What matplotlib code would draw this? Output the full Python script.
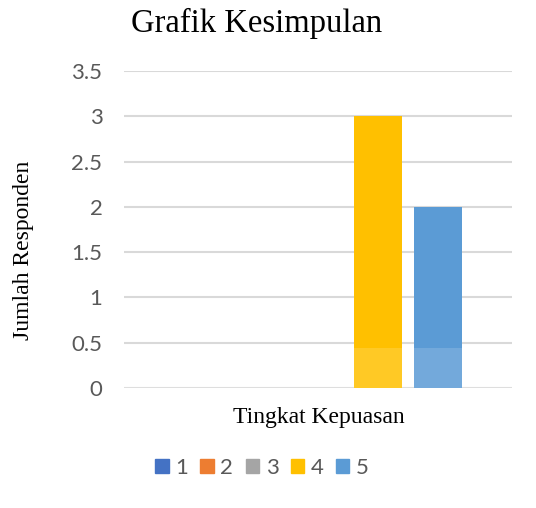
import matplotlib.pyplot as plt
import matplotlib.patches as mpatches

series_names = ["1", "2", "3", "4", "5"]
series_values = [0, 0, 0, 3, 2]
series_colors = ["#4472C4", "#ED7D31", "#A5A5A5", "#FFC000", "#5B9BD5"]
y_ticks = [0, 0.5, 1, 1.5, 2, 2.5, 3, 3.5]

W, H = 536, 508
fig = plt.figure(figsize=(W / 100, H / 100), dpi=100)
ax = fig.add_axes([124 / W, 1 - 388 / H, (512 - 124) / W, (388 - 71) / H])

step = 60 / 388
width = 48 / 388
for i, (name, val, col) in enumerate(zip(series_names, series_values, series_colors)):
    ax.bar(0.5 + (i - 2) * step, val, width=width, color=col, label=name, zorder=3)

# faint watermark band over the lower part of the bars
ax.axhspan(0, 0.44, color="white", alpha=0.15, zorder=4, lw=0)

ax.set_xlim(0, 1)
ax.set_ylim(0, 3.5)
ax.set_yticks(y_ticks)
ax.set_yticklabels([f"{t:g}" for t in y_ticks], fontfamily="Lato", fontsize=16,
                   color="#595959")
ax.set_xticks([])
ax.tick_params(axis="y", length=0, pad=15.5)
ax.grid(axis="y", color="#D9D9D9", linewidth=1.5, zorder=0)
for s in ax.spines.values():
    s.set_visible(False)

serif = "Liberation Serif"
fig.text(257 / W, 1 - 23 / H, "Grafik Kesimpulan", ha="center", va="center",
         fontfamily=serif, fontsize=23.5, color="#000000")
fig.text(24 / W, 1 - 250 / H, "Jumlah Responden", ha="center", va="center",
         rotation=90, fontfamily=serif, fontsize=17, color="#000000")
fig.text(319 / W, 1 - 417 / H, "Tingkat Kepuasan", ha="center", va="center",
         fontfamily=serif, fontsize=17, color="#000000")

handles = [mpatches.Patch(color=c, label=n) for n, c in zip(series_names, series_colors)]
leg = fig.legend(handles=handles, loc="center", bbox_to_anchor=(262 / W, 1 - 468 / H),
                 ncol=5, frameon=False, handlelength=0.6, handleheight=0.6,
                 handletextpad=0.3, columnspacing=0.55,
                 prop={"family": "Lato", "size": 16})
for t in leg.get_texts():
    t.set_color("#595959")

fig.savefig("out.png", dpi=100)
